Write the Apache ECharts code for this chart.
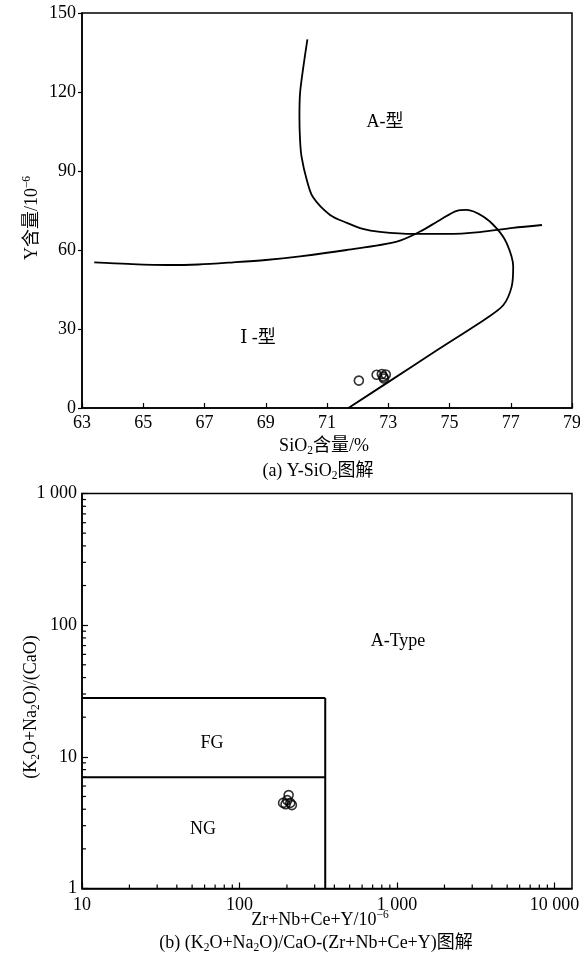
<!DOCTYPE html>
<html>
<head>
<meta charset="utf-8">
<script src="https://cdn.jsdelivr.net/npm/echarts@6/dist/echarts.min.js"></script>
<style>
  html, body { margin: 0; padding: 0; background: #fff; }
  #chart { width: 580px; height: 963px; }
</style>
</head>
<body>
<div id="chart"></div>
<script>
// ---- (a) Y–SiO2 discrimination diagram ----
// A-type field limit, [SiO2 %, Y ppm]
const aTypeLimit = [
  [70.36, 140.0], [70.23, 129.7], [70.12, 119.5], [70.10, 110.6], [70.12, 101.8],
  [70.17, 95.4], [70.34, 86.6], [70.54, 80.1], [71.10, 73.3], [71.65, 70.3],
  [72.17, 68.0], [72.73, 66.9], [73.81, 66.1], [74.92, 66.1], [75.99, 66.8],
  [77.07, 68.4], [78.02, 69.5]
];
// I-type / A-type boundary, [SiO2 %, Y ppm]
const iTypeLimit = [
  [63.40, 55.3], [64.50, 54.7], [65.77, 54.3], [66.80, 54.5], [67.94, 55.3],
  [69.00, 56.2], [70.12, 57.6], [71.64, 60.0], [73.28, 63.2], [74.04, 67.0],
  [74.69, 71.4], [75.24, 74.9], [75.56, 75.2], [76.10, 72.7], [76.54, 68.2],
  [76.87, 62.5], [77.08, 53.7], [77.03, 46.1], [76.76, 39.1], [76.21, 34.1],
  [74.60, 22.0], [73.06, 10.3], [71.70, 0.0]
];
// samples
const sampleSiO2 = [72.04, 72.62, 72.79, 72.92, 72.86, 72.84];
const sampleY    = [10.4, 12.6, 12.9, 12.7, 11.2, 11.9];

// ---- (b) (K2O+Na2O)/CaO vs Zr+Nb+Ce+Y diagram ----
const sampleZrNbCeY = [189, 205, 210, 196, 215, 201];
const sampleAlkCa   = [4.47, 5.12, 4.47, 4.37, 4.30, 4.69];
// field boundaries, [Zr+Nb+Ce+Y ppm, (K2O+Na2O)/CaO]
const fgUpperLimit = [[10, 28], [350, 28]];
const fgNgLimit    = [[10, 7], [350, 7]];
const aTypeEdge    = [[350, 1], [350, 28]];
// log-axis tick labels and minor tick positions
const logTickLabels = { 1: '1', 10: '10', 100: '100', 1000: '1 000', 10000: '10 000' };
const xMinorTicks = [20, 30, 40, 50, 60, 70, 80, 90, 200, 300, 400, 500, 600, 700, 800, 900,
                     2000, 3000, 4000, 5000, 6000, 7000, 8000, 9000];
const yMinorTicks = [2, 3, 4, 5, 6, 7, 8, 9, 20, 30, 40, 50, 60, 70, 80, 90,
                     200, 300, 400, 500, 600, 700, 800, 900];

const SERIF = "'Liberation Serif','Times New Roman','DejaVu Serif','Noto Sans CJK SC',serif";
const FS = 18;
const richStyles = {
  s: { fontSize: 11.5, lineHeight: 11, verticalAlign: 'bottom', fontFamily: SERIF, fill: '#000' },
  p: { fontSize: 11.5, lineHeight: 12, verticalAlign: 'top', fontFamily: SERIF, fill: '#000' },
  n: { fontSize: FS, lineHeight: 22, verticalAlign: 'middle', fontFamily: SERIF, fill: '#000' }
};

function label(x, y, text, rotation) {
  return {
    type: 'text', x: x, y: y, rotation: rotation || 0, silent: true,
    style: {
      text: text, rich: richStyles, fontSize: FS, fontFamily: SERIF, fill: '#000',
      align: 'center', verticalAlign: 'middle', lineHeight: 22
    }
  };
}

const axisLineStyle = { lineStyle: { color: '#000', width: 1.5 } };
const labelStyle = { color: '#000', fontSize: FS, fontFamily: SERIF };

function logLabel(v) {
  const k = Math.round(v);
  return logTickLabels[k] !== undefined && Math.abs(v - k) < 1e-6 * k ? logTickLabels[k] : '';
}

function minorTickSeries(values, dir) {
  return {
    type: 'custom', xAxisIndex: 1, yAxisIndex: 1, silent: true, clip: false,
    data: values.map(v => dir === 'x' ? [v, 1] : [10, v]),
    renderItem: function (params, api) {
      const p = api.coord([api.value(0), api.value(1)]);
      const shape = dir === 'x'
        ? { x1: p[0], y1: p[1], x2: p[0], y2: p[1] - 4 }
        : { x1: p[0], y1: p[1], x2: p[0] + 4, y2: p[1] };
      return { type: 'line', shape: shape, style: { stroke: '#000', lineWidth: 1.2 } };
    }
  };
}

const curveStyle = { color: '#000', width: 1.8 };
const hollow = { color: 'rgba(0,0,0,0)', borderColor: '#000', borderWidth: 1.6 };
const gridBase = {
  left: 82, width: 490, height: 395, show: true, borderColor: '#000', borderWidth: 1.5,
  backgroundColor: 'transparent', containLabel: false, outerBoundsMode: 'none'
};

const option = {
  animation: false,
  backgroundColor: '#fff',
  grid: [
    Object.assign({ top: 13 }, gridBase),
    Object.assign({ top: 493.5 }, gridBase)
  ],
  xAxis: [
    {
      gridIndex: 0, type: 'value', min: 63, max: 79, interval: 2,
      axisLine: axisLineStyle,
      axisTick: { inside: true, length: 5, lineStyle: { color: '#000', width: 1.2 } },
      axisLabel: Object.assign({ margin: 6 }, labelStyle),
      splitLine: { show: false }
    },
    {
      gridIndex: 1, type: 'log', logBase: 10, min: 10, max: 12900,
      axisLine: axisLineStyle,
      axisTick: { inside: true, length: 6, lineStyle: { color: '#000', width: 1.2 } },
      axisLabel: Object.assign({ margin: 8, formatter: logLabel, showMaxLabel: false }, labelStyle),
      splitLine: { show: false }
    }
  ],
  yAxis: [
    {
      gridIndex: 0, type: 'value', min: 0, max: 150, interval: 30,
      axisLine: axisLineStyle,
      axisTick: { inside: false, length: 4, lineStyle: { color: '#000', width: 1.2 } },
      axisLabel: Object.assign({ margin: 6 }, labelStyle),
      splitLine: { show: false }
    },
    {
      gridIndex: 1, type: 'log', logBase: 10, min: 1, max: 1000,
      axisLine: axisLineStyle,
      axisTick: { inside: true, length: 6, lineStyle: { color: '#000', width: 1.2 } },
      axisLabel: Object.assign({ margin: 5, formatter: logLabel }, labelStyle),
      splitLine: { show: false }
    }
  ],
  series: [
    { type: 'line', xAxisIndex: 0, yAxisIndex: 0, data: aTypeLimit, showSymbol: false, smooth: 0.3, lineStyle: curveStyle, silent: true },
    { type: 'line', xAxisIndex: 0, yAxisIndex: 0, data: iTypeLimit, showSymbol: false, smooth: 0.3, lineStyle: curveStyle, silent: true },
    {
      type: 'scatter', xAxisIndex: 0, yAxisIndex: 0, symbol: 'circle', symbolSize: 9,
      itemStyle: hollow,
      data: sampleSiO2.map((x, i) => [x, sampleY[i]])
    },
    { type: 'line', xAxisIndex: 1, yAxisIndex: 1, data: fgUpperLimit, showSymbol: false, lineStyle: { color: '#000', width: 2 }, silent: true },
    { type: 'line', xAxisIndex: 1, yAxisIndex: 1, data: fgNgLimit, showSymbol: false, lineStyle: { color: '#000', width: 2 }, silent: true },
    { type: 'line', xAxisIndex: 1, yAxisIndex: 1, data: aTypeEdge, showSymbol: false, lineStyle: { color: '#000', width: 2 }, silent: true },
    minorTickSeries(xMinorTicks, 'x'),
    minorTickSeries(yMinorTicks, 'y'),
    {
      type: 'scatter', xAxisIndex: 1, yAxisIndex: 1, symbol: 'circle', symbolSize: 9,
      itemStyle: hollow,
      data: sampleZrNbCeY.map((x, i) => [x, sampleAlkCa[i]])
    }
  ],
  graphic: [
    // (a) titles and field names
    label(32, 218, '{n|Y含量/10}{p|−6}', Math.PI / 2),
    label(324, 446, '{n|SiO}{s|2}{n|含量/%}'),
    label(318, 471, '{n|(a) Y-SiO}{s|2}{n|图解}'),
    label(385, 122, '{n|A-型}'),
    label(258, 338, '{n|Ⅰ -型}'),
    // (b) titles and field names
    label(31, 707, '{n|(K}{s|2}{n|O+Na}{s|2}{n|O)/(CaO)}', Math.PI / 2),
    label(320, 920, '{n|Zr+Nb+Ce+Y/10}{p|−6}'),
    label(316, 943, '{n|(b) (K}{s|2}{n|O+Na}{s|2}{n|O)/CaO-(Zr+Nb+Ce+Y)图解}'),
    label(398, 641, '{n|A-Type}'),
    label(212, 743, '{n|FG}'),
    label(203, 829, '{n|NG}')
  ]
};

const chart = echarts.init(document.getElementById('chart'), null, { renderer: 'canvas' });
chart.setOption(option);
</script>
</body>
</html>
